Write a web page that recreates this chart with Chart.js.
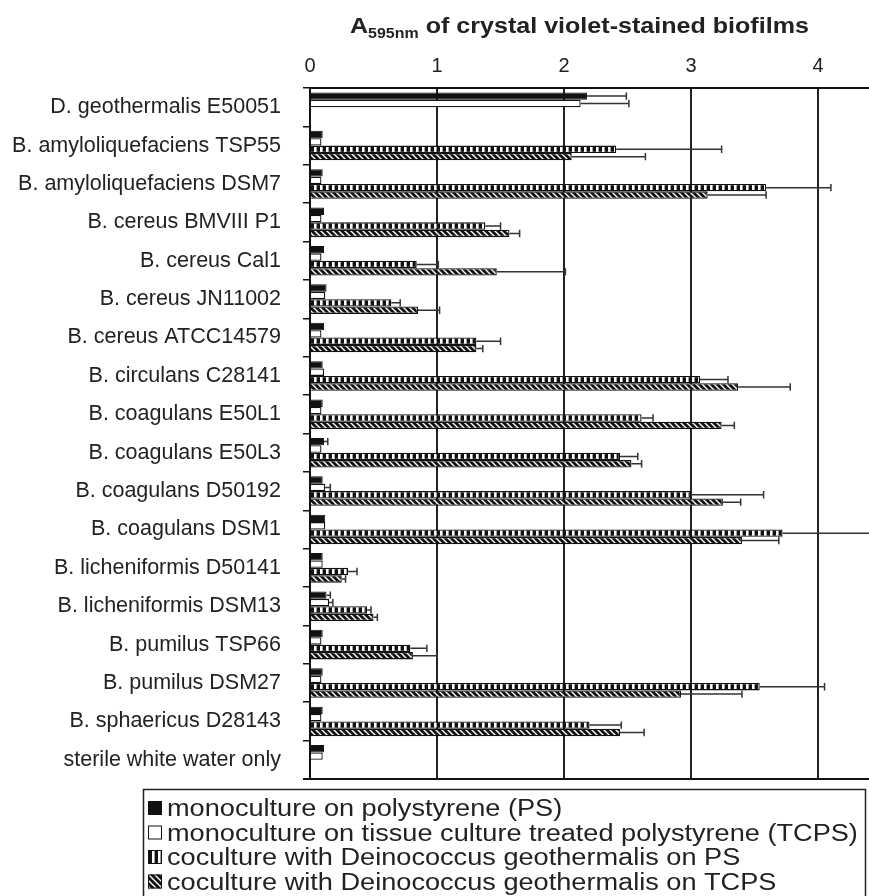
<!DOCTYPE html>
<html lang="en">
<head>
<meta charset="UTF-8">
<title>Crystal violet-stained biofilms</title>
<script src="https://cdn.jsdelivr.net/npm/chart.js"></script>
<style>
  html, body { margin: 0; padding: 0; background: #fff; }
</style>
</head>
<body>
<canvas id="biofilmChart" width="869" height="896"></canvas>
<script>
// strains, top to bottom
const strains = [
  'D. geothermalis E50051', 'B. amyloliquefaciens TSP55', 'B. amyloliquefaciens DSM7',
  'B. cereus BMVIII P1', 'B. cereus Cal1', 'B. cereus JN11002', 'B. cereus ATCC14579',
  'B. circulans C28141', 'B. coagulans E50L1', 'B. coagulans E50L3', 'B. coagulans D50192',
  'B. coagulans DSM1', 'B. licheniformis D50141', 'B. licheniformis DSM13',
  'B. pumilus TSP66', 'B. pumilus DSM27', 'B. sphaericus D28143', 'sterile white water only'
];
const seriesNames = [
  'monoculture on polystyrene (PS)',
  'monoculture on tissue culture treated polystyrene (TCPS)',
  'coculture with Deinococcus geothermalis on PS',
  'coculture with Deinococcus geothermalis on TCPS'
];
const xTicks = [0, 1, 2, 3, 4];

// A595nm values and + error (SD)
const monoPS      = [2.18, 0.10, 0.10, 0.11, 0.11, 0.13, 0.11, 0.10, 0.10, 0.11, 0.10, 0.12, 0.10, 0.13, 0.10, 0.10, 0.10, 0.11];
const monoPSErr   = [0.31, 0, 0, 0, 0, 0, 0, 0, 0, 0.03, 0, 0, 0, 0.03, 0, 0, 0, 0];
const monoTCPS    = [2.13, 0.09, 0.09, 0.09, 0.09, 0.12, 0.09, 0.11, 0.09, 0.09, 0.12, 0.12, 0.10, 0.15, 0.09, 0.09, 0.09, 0.10];
const monoTCPSErr = [0.38, 0, 0, 0, 0, 0, 0, 0, 0, 0, 0.04, 0, 0, 0.03, 0, 0, 0, 0];
const coPS        = [null, 2.41, 3.59, 1.38, 0.84, 0.64, 1.31, 3.07, 2.61, 2.44, 3.00, 3.72, 0.30, 0.45, 0.79, 3.54, 2.20, null];
const coPSErr     = [null, 0.83, 0.51, 0.12, 0.17, 0.07, 0.19, 0.22, 0.09, 0.14, 0.57, 0.80, 0.07, 0.03, 0.13, 0.51, 0.25, null];
const coTCPS      = [null, 2.06, 3.13, 1.57, 1.47, 0.85, 1.31, 3.37, 3.24, 2.53, 3.25, 3.40, 0.25, 0.50, 0.81, 2.92, 2.44, null];
const coTCPSErr   = [null, 0.58, 0.46, 0.08, 0.54, 0.17, 0.05, 0.41, 0.10, 0.08, 0.14, 0.29, 0.03, 0.03, 0.19, 0.48, 0.19, null];

const ctx = document.getElementById('biofilmChart').getContext('2d');

function makeStripes() {
  const c = document.createElement('canvas');
  c.width = 6; c.height = 6;
  const g = c.getContext('2d');
  g.fillStyle = '#111'; g.fillRect(0, 0, 6, 6);
  g.fillStyle = '#fff'; g.fillRect(2, 0, 2.6, 6);
  return ctx.createPattern(c, 'repeat');
}
function makeHatch() {
  const s = 6;
  const c = document.createElement('canvas');
  c.width = s; c.height = s;
  const g = c.getContext('2d');
  g.fillStyle = '#111'; g.fillRect(0, 0, s, s);
  g.strokeStyle = '#fff'; g.lineWidth = 1.4;
  g.beginPath();
  g.moveTo(-1, -1); g.lineTo(s + 1, s + 1);
  g.moveTo(s - 1, -1); g.lineTo(s + 1, 1);
  g.moveTo(-1, s - 1); g.lineTo(1, s + 1);
  g.stroke();
  return ctx.createPattern(c, 'repeat');
}
const stripes = makeStripes();
const hatch = makeHatch();

// error bars, plus side only
const errorBars = {
  id: 'errorBars',
  afterDatasetsDraw(chart) {
    const c = chart.ctx, xs = chart.scales.x;
    c.save();
    c.beginPath();
    c.rect(chart.chartArea.left, 0, chart.chartArea.right - chart.chartArea.left, chart.height);
    c.clip();
    c.strokeStyle = '#333';
    c.lineWidth = 1.5;
    chart.data.datasets.forEach((ds, i) => {
      chart.getDatasetMeta(i).data.forEach((bar, j) => {
        const v = ds.data[j], e = ds.errors[j];
        if (v == null || !e) return;
        const { x, y, height } = bar.getProps(['x', 'y', 'height'], true);
        const x2 = xs.getPixelForValue(v + e);
        const h = height / 2;
        c.beginPath();
        c.moveTo(x, y); c.lineTo(x2, y);
        c.moveTo(x2, y - h); c.lineTo(x2, y + h);
        c.stroke();
      });
    });
    c.restore();
  }
};

// title, bottom frame line and boxed legend
const frame = {
  id: 'frame',
  afterDraw(chart) {
    const c = chart.ctx, a = chart.chartArea;
    c.save();
    c.strokeStyle = '#111';
    c.lineWidth = 2;
    c.beginPath();
    c.moveTo(a.left - 7, a.bottom); c.lineTo(a.right, a.bottom);
    c.stroke();

    // title with subscript
    c.fillStyle = '#222';
    c.textBaseline = 'alphabetic';
    c.save();
    c.translate(350, 33);
    c.scale(1.14, 1);
    c.font = 'bold 22px "Liberation Sans", Arial, sans-serif';
    c.fillText('A', 0, 0);
    let w = c.measureText('A').width;
    c.font = 'bold 14px "Liberation Sans", Arial, sans-serif';
    c.fillText('595nm', w, 5);
    w += c.measureText('595nm').width;
    c.font = 'bold 22px "Liberation Sans", Arial, sans-serif';
    c.fillText(' of crystal violet-stained biofilms', w, 0);
    c.restore();

    // legend
    c.lineWidth = 1.5;
    c.strokeStyle = '#222';
    c.strokeRect(143.5, 789.5, 722, 140);
    const fills = chart.data.datasets.map(d => d.backgroundColor);
    seriesNames.forEach((name, i) => {
      const cy = 808 + i * 24.5;
      c.fillStyle = fills[i];
      c.fillRect(148, cy - 7, 14, 14);
      c.strokeStyle = '#111';
      c.lineWidth = 1;
      c.strokeRect(148.5, cy - 6.5, 13, 13);
      c.save();
      c.translate(167, cy + 8);
      c.scale(1.18, 1);
      c.fillStyle = '#222';
      c.font = '23px "Liberation Sans", Arial, sans-serif';
      c.fillText(name, 0, 0);
      c.restore();
    });
    c.restore();
  }
};

const datasets = [
  { label: seriesNames[0], data: monoPS, errors: monoPSErr, backgroundColor: '#111', borderColor: '#111', borderWidth: 1 },
  { label: seriesNames[1], data: monoTCPS, errors: monoTCPSErr, backgroundColor: '#fff', borderColor: '#111', borderWidth: 1.3 },
  { label: seriesNames[2], data: coPS, errors: coPSErr, backgroundColor: stripes, borderColor: '#111', borderWidth: 1.3 },
  { label: seriesNames[3], data: coTCPS, errors: coTCPSErr, backgroundColor: hatch, borderColor: '#111', borderWidth: 1.3 }
];

new Chart(ctx, {
  type: 'bar',
  data: { labels: strains, datasets: datasets },
  options: {
    indexAxis: 'y',
    responsive: false,
    animation: false,
    layout: { padding: { top: 0, right: 0, bottom: 117, left: 0 } },
    datasets: { bar: { categoryPercentage: 0.77, barPercentage: 1.0, borderSkipped: 'start' } },
    plugins: { legend: { display: false }, tooltip: { enabled: false } },
    scales: {
      x: {
        position: 'top',
        min: 0,
        max: 4.4,
        afterBuildTicks: s => { s.ticks = xTicks.map(v => ({ value: v })); },
        afterFit: s => { s.height = 88; },
        border: { display: true, color: '#111', width: 2 },
        grid: { color: '#222', lineWidth: 2, drawTicks: false },
        ticks: { color: '#222', padding: 10, font: { family: '"Liberation Sans", Arial, sans-serif', size: 20 } }
      },
      y: {
        afterFit: s => { s.width = 310; },
        border: { display: true, color: '#111', width: 2 },
        grid: { drawOnChartArea: false, color: '#111', tickLength: 7, lineWidth: 1.5, offset: true },
        ticks: { color: '#222', padding: 22, autoSkip: false, font: { family: '"Liberation Sans", Arial, sans-serif', size: 21.5 } }
      }
    }
  },
  plugins: [errorBars, frame]
});
</script>
</body>
</html>
